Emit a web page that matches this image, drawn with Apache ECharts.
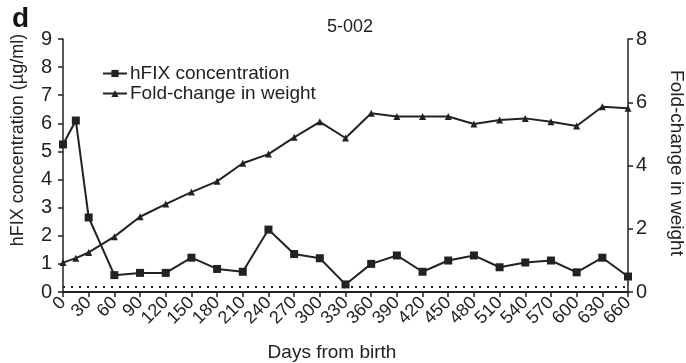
<!DOCTYPE html>
<html>
<head>
<meta charset="utf-8">
<script src="https://cdn.jsdelivr.net/npm/echarts@6/dist/echarts.min.js"></script>
<style>html,body{margin:0;padding:0;background:#fff;}#c{width:686px;height:363px;}</style>
</head>
<body>
<div id="c"></div>
<script>
const days = [0, 15, 30, 60, 90, 120, 150, 180, 210, 240, 270, 300, 330, 360, 390, 420, 450, 480, 510, 540, 570, 600, 630, 660];
const hfixConc = [5.25, 6.1, 2.65, 0.6, 0.68, 0.68, 1.22, 0.82, 0.72, 2.22, 1.35, 1.2, 0.27, 1.0, 1.3, 0.72, 1.12, 1.3, 0.88, 1.05, 1.12, 0.7, 1.22, 0.55];
const foldWeight = [0.93, 1.07, 1.25, 1.75, 2.38, 2.78, 3.16, 3.5, 4.07, 4.36, 4.89, 5.38, 4.87, 5.65, 5.55, 5.55, 5.55, 5.31, 5.44, 5.49, 5.38, 5.25, 5.86, 5.81];
const detectionLimit = 0.2;
const xTicks = {min: 0, max: 660, interval: 30};
const leftTicks = {min: 0, max: 9, interval: 1};
const rightTicks = {min: 0, max: 8, interval: 2};

const FONT = 'Liberation Sans, Arial, sans-serif';
const INK = '#222';
const chart = echarts.init(document.getElementById('c'));
chart.setOption({
  animation: false,
  backgroundColor: '#fff',
  textStyle: {fontFamily: FONT, color: INK},
  title: {
    text: '5-002', left: 322, top: 13,
    textStyle: {fontFamily: FONT, fontSize: 18, fontWeight: 'normal', color: INK}
  },
  legend: {
    orient: 'vertical', left: 97, top: 59, itemWidth: 24, itemHeight: 9, itemGap: 1,
    textStyle: {fontFamily: FONT, fontSize: 19, color: INK, padding: [0, 0, 0, -2]},
    data: ['hFIX concentration', 'Fold-change in weight']
  },
  grid: {left: 63, right: 58, top: 39, bottom: 71, containLabel: false},
  xAxis: {
    type: 'value', min: xTicks.min, max: xTicks.max, interval: xTicks.interval,
    axisLine: {lineStyle: {color: INK, width: 2}},
    axisTick: {show: true, length: 5, lineStyle: {color: INK, width: 1.5}},
    axisLabel: {rotate: 45, fontSize: 18, color: INK, fontFamily: FONT, margin: 8, interval: 0,
      showMinLabel: true, showMaxLabel: true, hideOverlap: false},
    splitLine: {show: false}
  },
  yAxis: [{
    type: 'value', position: 'left', min: leftTicks.min, max: leftTicks.max, interval: leftTicks.interval,
    axisLine: {show: true, lineStyle: {color: INK, width: 1.5}},
    axisTick: {show: true, length: 5, lineStyle: {color: INK, width: 1.5}},
    axisLabel: {fontSize: 20, color: INK, fontFamily: FONT, margin: 11, showMinLabel: true, showMaxLabel: true},
    splitLine: {show: false}
  }, {
    type: 'value', position: 'right', min: rightTicks.min, max: rightTicks.max, interval: rightTicks.interval,
    axisLine: {show: true, lineStyle: {color: INK, width: 1.5}},
    axisTick: {show: true, length: 5, lineStyle: {color: INK, width: 1.5}},
    axisLabel: {fontSize: 20, color: INK, fontFamily: FONT, margin: 8, showMinLabel: true, showMaxLabel: true},
    splitLine: {show: false}
  }],
  graphic: [
    {type: 'text', left: 12, top: 5, style: {text: 'd', font: 'bold 28px ' + FONT, fill: '#111'}},
    {type: 'text', x: 18, y: 140, rotation: Math.PI / 2, style: {text: 'hFIX concentration (µg/ml)', font: '18px ' + FONT, fill: INK, align: 'center', verticalAlign: 'middle'}},
    {type: 'text', x: 676, y: 163, rotation: -Math.PI / 2, style: {text: 'Fold-change in weight', font: '19px ' + FONT, fill: INK, align: 'center', verticalAlign: 'middle'}},
    {type: 'text', x: 332, y: 353, style: {text: 'Days from birth', font: '19px ' + FONT, fill: INK, align: 'center', verticalAlign: 'middle'}}
  ],
  series: [{
    name: 'hFIX concentration', type: 'line', yAxisIndex: 0,
    data: days.map((d, i) => [d, hfixConc[i]]),
    symbol: 'rect', symbolSize: 8,
    lineStyle: {color: INK, width: 2}, itemStyle: {color: INK},
    markLine: {
      silent: true, symbol: 'none', label: {show: false},
      lineStyle: {color: INK, type: [2, 6], width: 2},
      data: [[{coord: [xTicks.min, detectionLimit]}, {coord: [xTicks.max, detectionLimit]}]]
    }
  }, {
    name: 'Fold-change in weight', type: 'line', yAxisIndex: 1,
    data: days.map((d, i) => [d, foldWeight[i]]),
    symbol: 'triangle', symbolSize: 7,
    lineStyle: {color: INK, width: 2}, itemStyle: {color: INK}
  }]
});
</script>
</body>
</html>
